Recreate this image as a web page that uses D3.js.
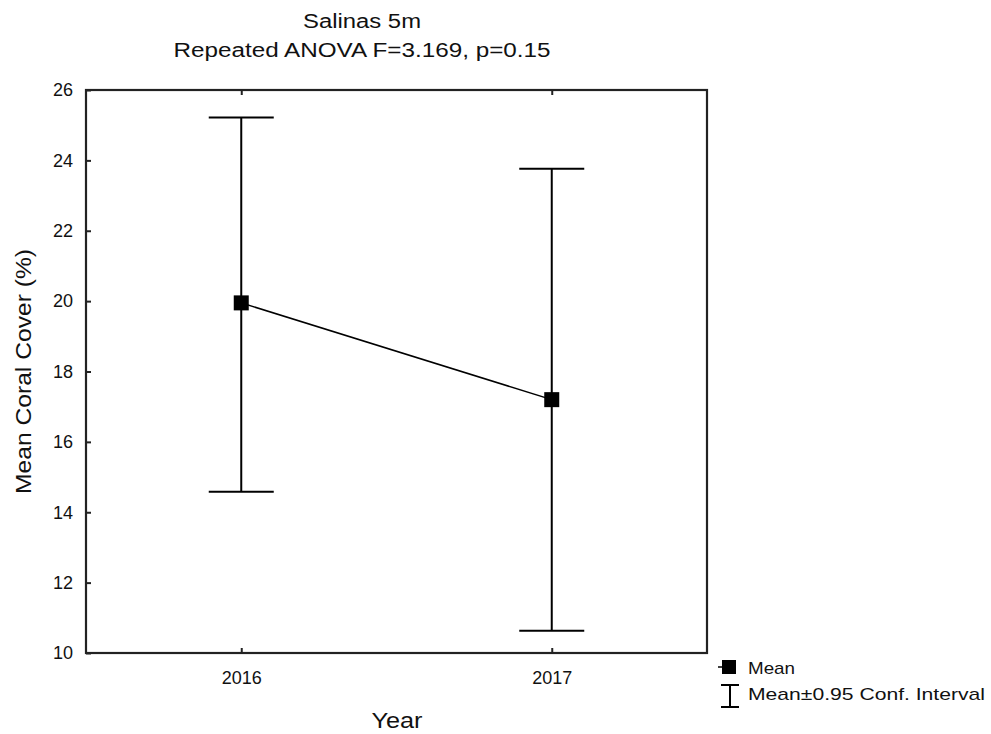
<!DOCTYPE html>
<html>
<head>
<meta charset="utf-8">
<script src="https://cdn.jsdelivr.net/npm/d3@7"></script>
<style>
  html, body { margin: 0; padding: 0; background: #fff; }
  svg { display: block; font-family: "Liberation Sans", Arial, sans-serif; }
</style>
</head>
<body>
<svg id="chart" width="991" height="734"></svg>
<script>
// ---- data ----
const years = ["2016", "2017"];
const meanValues = [19.95, 17.2];
const ciUpper = [25.22, 23.76];
const ciLower = [14.58, 10.63];
const yTicks = [10, 12, 14, 16, 18, 20, 22, 24, 26];
const titleLines = ["Salinas 5m", "Repeated ANOVA F=3.169, p=0.15"];
const xTitle = "Year";
const yTitle = "Mean Coral Cover (%)";
const legendLabels = ["Mean", "Mean\u00B10.95 Conf. Interval"];

const svg = d3.select("#chart");
const frame = { left: 86, top: 90, right: 707, bottom: 653 };

const x = d3.scalePoint().domain(years).range([frame.left, frame.right]).padding(0.5);
const y = d3.scaleLinear().domain([10, 26]).range([frame.bottom, frame.top]);

// title
const titleWidths = [118, 377];
svg.selectAll("text.title").data(titleLines).join("text")
  .attr("class", "title")
  .attr("x", 362)
  .attr("y", (d, i) => 28 + i * 29)
  .attr("text-anchor", "middle")
  .attr("font-size", 20)
  .attr("fill", "#111")
  .attr("textLength", (d, i) => titleWidths[i])
  .attr("lengthAdjust", "spacingAndGlyphs")
  .text(d => d);

// axes
const yAxis = d3.axisLeft(y).tickValues(yTicks).tickSize(-5).tickPadding(13);
const gy = svg.append("g").attr("transform", `translate(${frame.left},0)`).call(yAxis);
gy.select(".domain").remove();
gy.selectAll("text").attr("font-size", 18).attr("fill", "#111").attr("font-family", "Liberation Sans, Arial, sans-serif");
gy.selectAll("line").attr("stroke", "#222").attr("stroke-width", 2);

const xAxis = d3.axisBottom(x).tickSize(-5).tickPadding(18);
const gx = svg.append("g").attr("transform", `translate(0,${frame.bottom})`).call(xAxis);
gx.select(".domain").remove();
gx.selectAll("text").attr("font-size", 18).attr("fill", "#111").attr("font-family", "Liberation Sans, Arial, sans-serif");
gx.selectAll("line").attr("stroke", "#222").attr("stroke-width", 2);

const xTop = d3.axisTop(x).tickSize(-5).tickFormat("");
const gxt = svg.append("g").attr("transform", `translate(0,${frame.top})`).call(xTop);
gxt.select(".domain").remove();
gxt.selectAll("line").attr("stroke", "#222").attr("stroke-width", 2);

// frame
svg.append("rect")
  .attr("x", frame.left).attr("y", frame.top)
  .attr("width", frame.right - frame.left).attr("height", frame.bottom - frame.top)
  .attr("fill", "none").attr("stroke", "#222").attr("stroke-width", 2.2);

// axis titles
svg.append("text")
  .attr("x", 397).attr("y", 728)
  .attr("text-anchor", "middle").attr("font-size", 22).attr("fill", "#111")
  .attr("textLength", 51).attr("lengthAdjust", "spacingAndGlyphs")
  .text(xTitle);
svg.append("text")
  .attr("transform", `translate(31,${(frame.top + frame.bottom) / 2}) rotate(-90)`)
  .attr("text-anchor", "middle").attr("font-size", 22).attr("fill", "#111")
  .attr("textLength", 245).attr("lengthAdjust", "spacingAndGlyphs")
  .text(yTitle);

// error bars
const capW = 65;
const bars = svg.append("g").attr("stroke", "#000").attr("stroke-width", 2);
years.forEach((yr, i) => {
  const cx = x(yr);
  bars.append("line").attr("x1", cx).attr("x2", cx).attr("y1", y(ciUpper[i])).attr("y2", y(ciLower[i]));
  bars.append("line").attr("x1", cx - capW / 2).attr("x2", cx + capW / 2).attr("y1", y(ciUpper[i])).attr("y2", y(ciUpper[i]));
  bars.append("line").attr("x1", cx - capW / 2).attr("x2", cx + capW / 2).attr("y1", y(ciLower[i])).attr("y2", y(ciLower[i]));
});

// mean line
const line = d3.line().x((d, i) => x(years[i])).y(d => y(d));
svg.append("path").datum(meanValues)
  .attr("d", line).attr("fill", "none").attr("stroke", "#000").attr("stroke-width", 1.5);

// markers
const ms = 15;
svg.selectAll("rect.mean").data(meanValues).join("rect")
  .attr("class", "mean")
  .attr("x", (d, i) => x(years[i]) - ms / 2)
  .attr("y", d => y(d) - ms / 2)
  .attr("width", ms).attr("height", ms)
  .attr("fill", "#000");

// legend
const lg = svg.append("g");
lg.append("rect").attr("x", 722).attr("y", 660).attr("width", 14).attr("height", 14).attr("fill", "#000");
lg.append("line").attr("x1", 718).attr("x2", 722).attr("y1", 667).attr("y2", 667).attr("stroke", "#000").attr("stroke-width", 1.5);
lg.append("line").attr("x1", 730).attr("x2", 730).attr("y1", 685).attr("y2", 707).attr("stroke", "#000").attr("stroke-width", 2);
lg.append("line").attr("x1", 721).attr("x2", 739).attr("y1", 685).attr("y2", 685).attr("stroke", "#000").attr("stroke-width", 2);
lg.append("line").attr("x1", 721).attr("x2", 739).attr("y1", 707).attr("y2", 707).attr("stroke", "#000").attr("stroke-width", 2);
const legendWidths = [47, 237];
lg.selectAll("text").data(legendLabels).join("text")
  .attr("x", 748).attr("y", (d, i) => 674 + i * 26)
  .attr("font-size", 17).attr("fill", "#111")
  .attr("textLength", (d, i) => legendWidths[i])
  .attr("lengthAdjust", "spacingAndGlyphs")
  .text(d => d);
</script>
</body>
</html>
